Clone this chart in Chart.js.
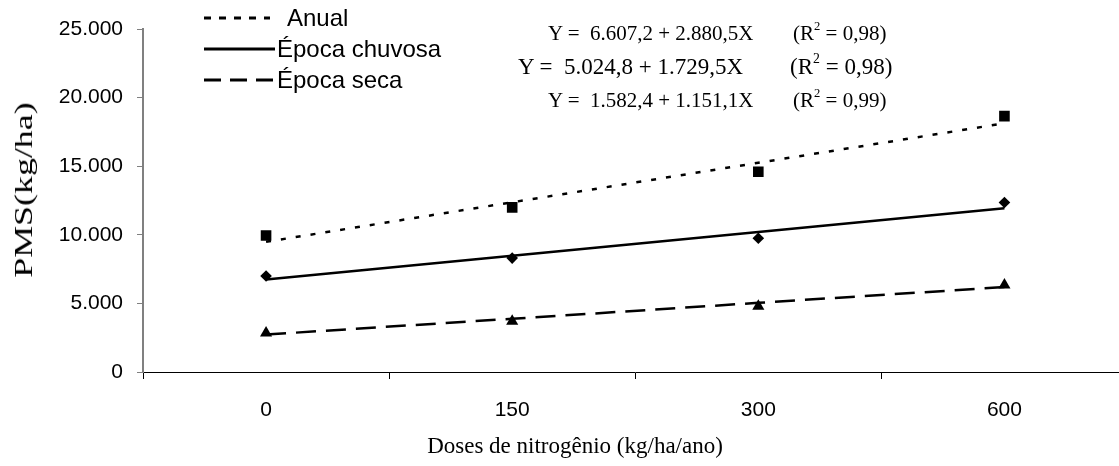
<!DOCTYPE html>
<html lang="pt">
<head>
<meta charset="utf-8">
<title>PMS x doses de nitrogênio</title>
<script src="https://cdn.jsdelivr.net/npm/chart.js@4.4.1/dist/chart.umd.min.js"></script>
<style>
  html, body { margin: 0; padding: 0; background: #fff; overflow: hidden; }
  #wrap { position: relative; width: 1135px; height: 466px; }
  .legend-row { position: absolute; left: 0; height: 30px; display: flex; align-items: center;
    font-family: "Liberation Sans", Arial, sans-serif; font-size: 24px; color: #000; white-space: nowrap; }
  .eq { position: absolute; font-family: "Liberation Serif", "Times New Roman", serif; color: #000;
    white-space: pre; line-height: 1; }
  .eq sup { font-size: 60%; vertical-align: top; position: relative; top: -3px; }
  #ytitle { position: absolute; left: 24px; top: 190px; font-family: "Liberation Serif", "Times New Roman", serif;
    font-size: 26px; white-space: nowrap; transform: translate(-50%, -50%) rotate(-90deg) scaleX(1.38); }
  #xtitle { position: absolute; left: 575px; top: 446px; font-family: "Liberation Serif", "Times New Roman", serif;
    font-size: 23px; white-space: nowrap; transform: translate(-50%, -50%); }
</style>
</head>
<body>
<div id="wrap">
  <canvas id="pmsChart" width="1135" height="466"></canvas>
  <div id="legendBox"></div>
  <div id="ytitle">PMS(kg/ha)</div>
  <div id="xtitle">Doses de nitrogênio (kg/ha/ano)</div>
</div>
<script>
// doses de N (eixo x)
const doses = ['0', '150', '300', '600'];

// valores observados (kg/ha)
const anual = [9950, 12000, 14600, 18650];
const chuvosa = [7000, 8300, 9750, 12350];
const seca = [2850, 3700, 4800, 6350];

// linhas de tendência
const anualTrend = [9490, 12370, 15250, 18130];
const chuvosaTrend = [6750, 8480, 10210, 11940];
const secaTrend = [2730, 3880, 5040, 6190];

const seriesNames = ['Anual', 'Época chuvosa', 'Época seca'];
const equations = ['Y =  6.607,2 + 2.880,5X', 'Y =  5.024,8 + 1.729,5X', 'Y =  1.582,4 + 1.151,1X'];
const r2Values = ['0,98', '0,98', '0,99'];

const yTicks = [0, 5000, 10000, 15000, 20000, 25000];

// estilo de cada série
const lineDash = [[5, 10], [], [20, 10]];
const legendDash = [[7, 8], [], [17, 9]];
const markerStyle = ['rect', 'rectRot', 'triangle'];
const markerRadius = [7.5, 5.8, 7];

function fmtThousands(v) {
    return String(v).replace(/\B(?=(\d{3})+(?!\d))/g, '.');
}

const observed = [anual, chuvosa, seca];
const trends = [anualTrend, chuvosaTrend, secaTrend];

const datasets = [];
trends.forEach((t, i) => {
    datasets.push({
        label: seriesNames[i] + ' (tendência)',
        data: t,
        borderColor: '#000',
        borderWidth: 2.5,
        borderDash: lineDash[i],
        pointRadius: 0,
        fill: false,
        tension: 0
    });
});
observed.forEach((d, i) => {
    datasets.push({
        label: seriesNames[i],
        data: d,
        showLine: false,
        pointStyle: markerStyle[i],
        pointRadius: markerRadius[i],
        backgroundColor: '#000',
        borderColor: '#000',
        borderWidth: 0
    });
});

new Chart(document.getElementById('pmsChart'), {
    type: 'line',
    data: { labels: doses, datasets: datasets },
    options: {
        responsive: false,
        animation: false,
        layout: { padding: { top: 29, right: 7, bottom: 0, left: 0 } },
        plugins: { legend: { display: false }, tooltip: { enabled: false } },
        scales: {
            x: {
                type: 'category',
                offset: true,
                grid: { offset: true, drawOnChartArea: false, drawTicks: true, tickLength: 7, color: '#000', lineWidth: 1 },
                border: { color: '#000', width: 1 },
                ticks: { color: '#000', padding: 19, maxRotation: 0,
                    font: { family: '"Liberation Sans", Arial, sans-serif', size: 21 } },
                afterFit: s => { s.height = 94; }
            },
            y: {
                min: 0,
                max: 25000,
                afterBuildTicks: s => { s.ticks = yTicks.map(v => ({ value: v })); },
                grid: { drawOnChartArea: false, drawTicks: true, tickLength: 6, color: '#808080', lineWidth: 1 },
                border: { color: '#808080', width: 2 },
                ticks: { color: '#000', padding: 14, callback: v => fmtThousands(v),
                    font: { family: '"Liberation Sans", Arial, sans-serif', size: 21 } },
                afterFit: s => { s.width = 143; }
            }
        }
    }
});

// legenda e equações em HTML
const legendBox = document.getElementById('legendBox');
const legendY = [18, 49, 80];
const textX = [287, 277, 277];
const sampleEnd = [270, 275, 275];
const eqX = [548, 518, 548];
const eqY = [33, 66, 100];
const eqSize = [21, 23, 21];
const r2X = [793, 790, 793];

seriesNames.forEach((name, i) => {
    const row = document.createElement('div');
    row.className = 'legend-row';
    row.style.top = (legendY[i] - 15) + 'px';
    row.style.left = '204px';
    const dash = legendDash[i].length ? legendDash[i].join(',') : 'none';
    const sampleW = sampleEnd[i] - 204;
    row.innerHTML = `<svg width="${sampleW}" height="6" style="margin-right:${textX[i] - sampleEnd[i]}px">
            <line x1="0" y1="3" x2="${sampleW}" y2="3" stroke="#000" stroke-width="2.8" stroke-dasharray="${dash}"/>
        </svg><span>${name}</span>`;
    legendBox.appendChild(row);

    const eq = document.createElement('div');
    eq.className = 'eq';
    eq.style.left = eqX[i] + 'px';
    eq.style.top = (eqY[i] - eqSize[i] / 2) + 'px';
    eq.style.fontSize = eqSize[i] + 'px';
    eq.textContent = equations[i];
    legendBox.appendChild(eq);

    const r2 = document.createElement('div');
    r2.className = 'eq';
    r2.style.left = r2X[i] + 'px';
    r2.style.top = (eqY[i] - eqSize[i] / 2) + 'px';
    r2.style.fontSize = eqSize[i] + 'px';
    r2.innerHTML = `(R<sup>2</sup> = ${r2Values[i]})`;
    legendBox.appendChild(r2);
});
</script>
</body>
</html>
